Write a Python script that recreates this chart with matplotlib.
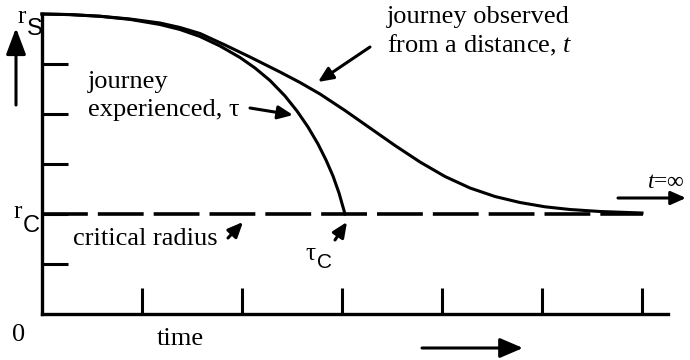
import matplotlib
matplotlib.use('Agg')
import matplotlib.pyplot as plt

plt.rcParams['font.family'] = 'Liberation Serif'
plt.rcParams['mathtext.fontset'] = 'custom'
plt.rcParams['mathtext.rm'] = 'Liberation Serif'
plt.rcParams['mathtext.it'] = 'Liberation Serif:italic'
plt.rcParams['lines.scale_dashes'] = False

# radius levels (arbitrary units)
r_s = 6.0
r_c = 2.0

# journey experienced (proper time tau)
tau_x = [0.00, 0.28, 0.58, 0.88, 1.18, 1.38, 1.58, 1.78, 1.98, 2.13,
         2.28, 2.43, 2.55, 2.66, 2.76, 2.84, 2.91, 2.97, 3.03]
tau_y = [6.000, 5.988, 5.954, 5.892, 5.790, 5.690, 5.550, 5.360, 5.130, 4.920,
         4.670, 4.360, 4.060, 3.740, 3.400, 3.080, 2.760, 2.420, 2.000]

# journey observed from a distance (coordinate time t)
t_x = [0.00, 0.28, 0.58, 0.88, 1.18, 1.38, 1.58, 1.83, 2.08, 2.38, 2.58, 2.78,
       3.03, 3.28, 3.53, 3.78, 4.03, 4.28, 4.53, 4.78, 5.03, 5.28, 5.58, 6.00]
t_y = [6.000, 5.988, 5.956, 5.900, 5.820, 5.730, 5.610, 5.380, 5.140, 4.840, 4.630, 4.400,
       4.070, 3.720, 3.370, 3.040, 2.750, 2.520, 2.350, 2.230, 2.144, 2.090, 2.050, 2.020]

x_ticks = [1, 2, 3, 4, 5, 6]
y_ticks = [1, 2, 3, 4, 5]

W, H = 690, 360
fig = plt.figure(figsize=(6.9, 3.6), dpi=100)
ax = fig.add_axes([42 / W, 46 / H, 626 / W, 300 / H])
ax.set_xlim(0, 6.26)
ax.set_ylim(0, r_s)

ax.plot(tau_x, tau_y, color='black', lw=2.2, clip_on=False)
ax.plot(t_x, t_y, color='black', lw=2.2, clip_on=False)
ax.plot([0, 6.01], [r_c, r_c], color='black', lw=2.6, ls=(0, (33, 7.2)), clip_on=False)

for side in ['top', 'right']:
    ax.spines[side].set_visible(False)
ax.spines['left'].set_linewidth(2.4)
ax.spines['bottom'].set_linewidth(2.4)
ax.set_xticks(x_ticks)
ax.set_yticks(y_ticks)
ax.tick_params(direction='in', length=18.7, width=2.2, labelbottom=False, labelleft=False)


def put(px, py, s, size=19, **kw):
    # px, py: pixel position from top-left, baseline of text
    fig.text(px / W, 1 - py / H, s, fontsize=size, va='baseline', ha='left', **kw)


def arrow(tail, tip, hl=0.9, hw=0.4):
    ax.annotate('', xy=(tip[0], H - tip[1]), xytext=(tail[0], H - tail[1]),
                xycoords='figure pixels', textcoords='figure pixels',
                arrowprops=dict(arrowstyle=f'-|>,head_length={hl},head_width={hw}',
                                color='black', lw=2.2, shrinkA=0, shrinkB=0,
                                mutation_scale=10),
                annotation_clip=False)


put(387, 23, 'journey observed')
put(387, 52, 'from a distance, $t$')
put(88, 88, 'journey')
put(88, 116, 'experienced, τ')
put(73, 245, 'critical radius')
put(12, 341, '0')
put(157, 345, 'time')
put(647, 188, '$t$=∞', size=17)

put(17, 23, 'r', size=18)
put(27, 35, 'S', size=17, family='Liberation Sans')
put(13, 218, 'r', size=18)
put(23, 232, 'C', size=17, family='Liberation Sans')
put(305, 260, 'τ', size=18)
put(317, 268, 'C', size=15, family='Liberation Sans')

arrow((16, 105), (16, 28), hl=1.6, hw=0.6)
arrow((422, 348), (523, 348), hl=1.4, hw=0.6)
arrow((618, 198), (686, 198))
arrow((370, 47), (318, 82))
arrow((250, 108), (293, 115))
arrow((228, 238), (243, 222))
arrow((335, 240), (347, 222))

fig.savefig('out.png', dpi=100)
